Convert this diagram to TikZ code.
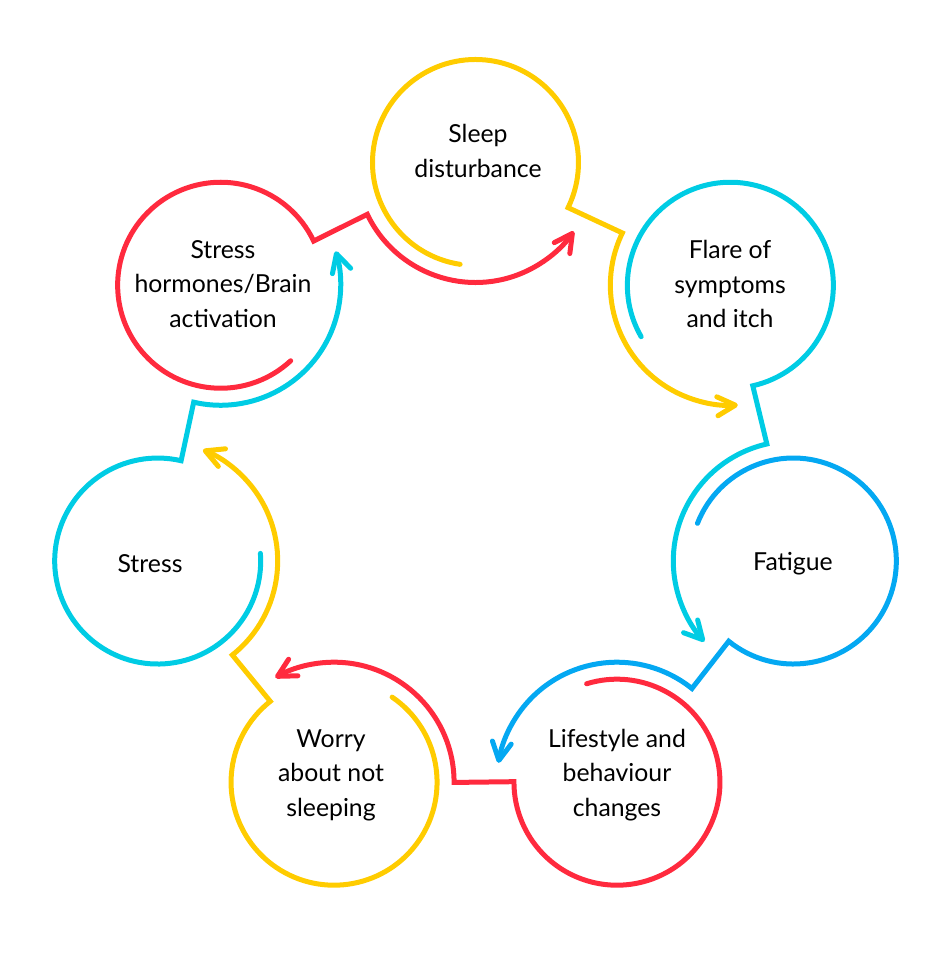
\documentclass[tikz,border=0pt]{standalone}
\usepackage{fontspec}
\setmainfont{Lato}
\usetikzlibrary{calc,arrows.meta}
\definecolor{cyel}{HTML}{FFCC00}
\definecolor{ccyan}{HTML}{00CCE4}
\definecolor{cblue}{HTML}{04A8F2}
\definecolor{cred}{HTML}{FF2A3E}
\begin{document}
\begin{tikzpicture}[x=1pt,y=1pt,
  flow/.style={line width=5pt,line cap=round,line join=miter,
    -{Straight Barb[length=18pt,width=19pt,round]}},
  lbl/.style={align=center,font=\fontsize{24.8}{34.5}\selectfont,text=black,inner sep=0pt}]
\useasboundingbox (0,0) rectangle (941,953);
\coordinate (O) at (475.5,464.5);
\foreach \i in {1,...,7}{
  \coordinate (c\i) at ($(O)+({90-(\i-1)*360/7}:326)$);
}
\foreach \i/\n/\col in {1/2/cyel,2/3/ccyan,3/4/cblue,4/5/cred,5/6/cyel,6/7/ccyan,7/1/cred}{
  \pgfmathsetmacro\th{90-(\i-1)*360/7}
  \pgfmathsetmacro\tn{\th-360/7}
  \draw[flow,draw=\col] (c\i) ++({\th+171.4}:103)
     arc[start angle={\th+171.4}, end angle={\th-116}, radius=103]
     -- ($(c\n)+({\tn+115.6}:120)$)
     arc[start angle={\tn+115.6}, end angle={\tn+235}, radius=120];
}
\node[lbl] (t1) at (478,802) {Sleep\\disturbance};
\node[lbl] (t2) at (730,669) {Flare of\\symptoms\\and itch};
\node[lbl] (t3) at (793,389) {Fatigue};
\node[lbl] (t4) at (617,178) {Lifestyle and\\behaviour\\changes};
\node[lbl] (t5) at (331,178) {Worry\\about not\\sleeping};
\node[lbl] (t6) at (150,389) {Stress};
\node[lbl] (t7) at (223,669) {Stress\\hormones/Brain\\activation};
\end{tikzpicture}
\end{document}
